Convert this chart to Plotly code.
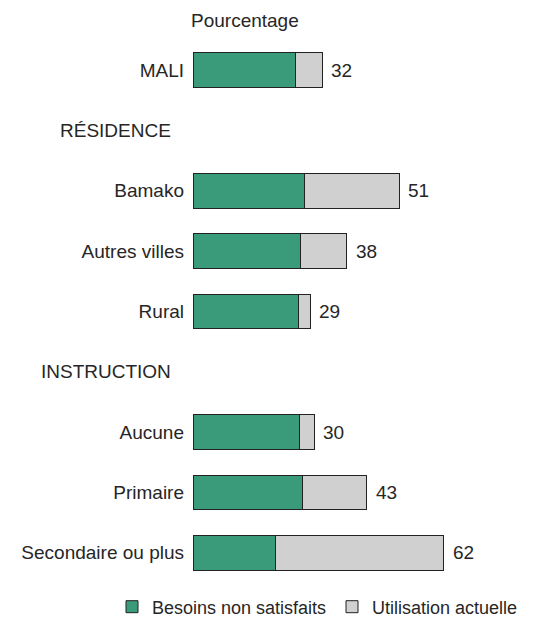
import plotly.graph_objects as go

categories = ["MALI", "RÉSIDENCE", "Bamako", "Autres villes", "Rural",
              "INSTRUCTION", "Aucune", "Primaire", "Secondaire ou plus"]
is_header = [False, True, False, False, False, True, False, False, False]
besoins = [25.4, None, 27.6, 26.6, 26.2, None, 26.4, 27.0, 20.5]
utilisation = [6.6, None, 23.4, 11.4, 2.8, None, 3.6, 16.0, 41.5]
totals = [32, None, 51, 38, 29, None, 30, 43, 62]

GREEN = "#3a9b7a"
GRAY = "#d0d0d0"
FONT = "Liberation Sans"
TXT = "#262626"
FS = 19

W, H = 541, 614  # page body has an 8px margin
ML, MT, MB = 185, 32, 39
PW, PH = W - ML, H - MT - MB

ypos = list(range(len(categories)))

fig = go.Figure()
fig.add_trace(go.Bar(
    y=ypos, x=besoins, orientation="h", name="Besoins non satisfaits",
    marker=dict(color=GREEN, line=dict(color="#222222", width=1)),
    width=0.57, hoverinfo="x",
))
fig.add_trace(go.Bar(
    y=ypos, x=utilisation, orientation="h", name="Utilisation actuelle",
    marker=dict(color=GRAY, line=dict(color="#222222", width=1)),
    width=0.57, hoverinfo="x",
))

# totals at bar ends
for y, b, u, t in zip(ypos, besoins, utilisation, totals):
    if t is None:
        continue
    fig.add_annotation(x=b + u, y=y, xref="x", yref="y", text=str(t),
                       xanchor="left", xshift=7, showarrow=False,
                       font=dict(family=FONT, size=FS, color=TXT))

tickvals = [y for y, h in zip(ypos, is_header) if not h]
ticktext = [c for c, h in zip(categories, is_header) if not h]

for y, c, h in zip(ypos, categories, is_header):
    if h:
        fig.add_annotation(x=0, y=y, xref="paper", yref="y", text=c,
                           xanchor="right", xshift=-20, showarrow=False,
                           font=dict(family=FONT, size=FS, color=TXT))

fig.add_annotation(x=0, y=1, xref="paper", yref="paper", text="Pourcentage",
                   xanchor="left", yanchor="bottom", yshift=7, xshift=-4, showarrow=False,
                   font=dict(family=FONT, size=FS, color=TXT))

fig.update_layout(
    barmode="stack",
    width=W, height=H,
    margin=dict(l=ML, r=0, t=MT, b=MB, autoexpand=False),
    paper_bgcolor="white", plot_bgcolor="white",
    font=dict(family=FONT, size=FS, color=TXT),
    showlegend=True,
    legend=dict(orientation="h", xref="paper", yref="paper",
                x=(104 - ML) / PW, y=-(599 - (H - MB)) / PH,
                xanchor="left", yanchor="middle",
                font=dict(family=FONT, size=18, color=TXT),
                itemwidth=30, traceorder="normal", bgcolor="rgba(0,0,0,0)",
                entrywidth=175, entrywidthmode="pixels"),
    bargap=0.4,
)
fig.update_xaxes(range=[0, 88], visible=False, fixedrange=True)
fig.update_yaxes(range=[8.5, -0.5], tickvals=tickvals, ticktext=ticktext,
                 showgrid=False, zeroline=False, showline=False, ticks="",
                 tickfont=dict(family=FONT, size=FS, color=TXT),
                 ticklabelstandoff=8, automargin=False)

fig.write_html("out.html")
